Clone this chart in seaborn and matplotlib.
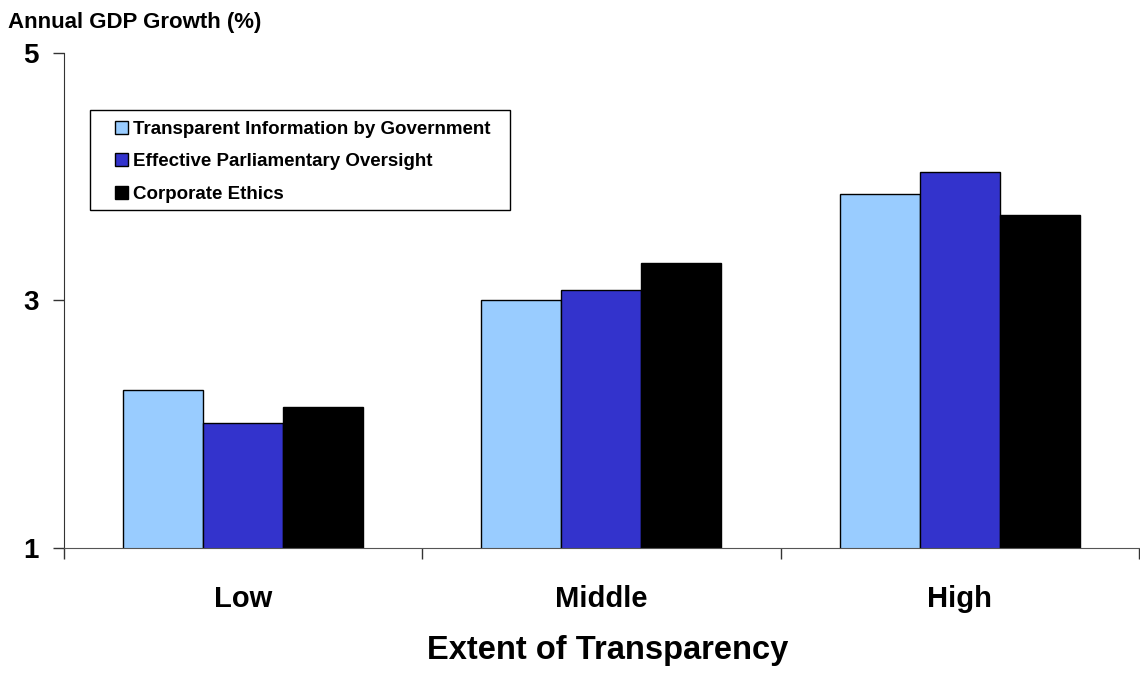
import pandas as pd
import matplotlib
matplotlib.use("Agg")
import matplotlib.pyplot as plt
from matplotlib.patches import Rectangle
import seaborn as sns

# values
categories = ["Low", "Middle", "High"]
transparent_info = [2.28, 3.00, 3.86]
parliament_oversight = [2.01, 3.08, 4.04]
corporate_ethics = [2.14, 3.30, 3.69]
series_names = ["Transparent Information by Government",
                "Effective Parliamentary Oversight",
                "Corporate Ethics"]
colors = ["#99CCFF", "#3333CC", "#000000"]
y_ticks = [1, 3, 5]

df = pd.DataFrame({
    "level": categories * 3,
    "growth": transparent_info + parliament_oversight + corporate_ethics,
    "series": [series_names[0]] * 3 + [series_names[1]] * 3 + [series_names[2]] * 3,
})

sns.set_style("white")
plt.rcParams["font.family"] = ["Liberation Sans", "DejaVu Sans"]
plt.rcParams["font.weight"] = "bold"
plt.rcParams["text.color"] = "black"
plt.rcParams["xtick.color"] = "black"
plt.rcParams["ytick.color"] = "black"

fig = plt.figure(figsize=(11.4, 6.75), dpi=100)
ax = fig.add_axes([0.056, 0.188, 0.943, 0.734])

sns.barplot(data=df, x="level", y="growth", hue="series", order=categories,
            hue_order=series_names, palette=colors, width=0.67,
            edgecolor="black", linewidth=1, saturation=1, ax=ax)

ax.set_ylim(1, 5)
ax.set_xlim(-0.5, 2.5)
ax.set_yticks(y_ticks)
ax.set_yticklabels([str(t) for t in y_ticks], fontsize=20, fontweight="bold")
ax.set_xticks([-0.5, 0.5, 1.5, 2.5])
ax.set_xticklabels([])
ax.tick_params(axis="y", direction="out", length=8, width=1, color="#333333", pad=10)
ax.tick_params(axis="x", direction="out", length=8, width=1, color="#333333")
ax.tick_params(left=True, bottom=True)
# category names sit between the boundary ticks
for i, c in enumerate(categories):
    ax.text(i, -0.1186, c, transform=ax.get_xaxis_transform(), ha="center",
            va="baseline", fontsize=21, fontweight="bold")

ax.set_xlabel("")
ax.set_ylabel("")
fig.text(0.533, 0.0237, "Extent of Transparency", ha="center", va="baseline",
         fontsize=23.5, fontweight="bold")
fig.text(0.007, 0.9585, "Annual GDP Growth (%)", ha="left", va="baseline",
         fontsize=16, fontweight="bold")

for side in ["top", "right"]:
    ax.spines[side].set_visible(False)
ax.spines["left"].set_color("#333333")
ax.spines["bottom"].set_color("#555555")

# legend box drawn separately so the padding matches the original
ax.add_patch(Rectangle((0.0242, 0.683), 0.391, 0.202, transform=ax.transAxes,
                       facecolor="white", edgecolor="black", linewidth=1,
                       zorder=5, clip_on=False))
handles, labels = ax.get_legend_handles_labels()
leg = ax.legend(handles, labels, loc="upper left", bbox_to_anchor=(0.0475, 0.863),
                frameon=False, fontsize=13.5, handlelength=0.7, handleheight=0.7,
                handletextpad=0.27, labelspacing=0.82, borderpad=0,
                borderaxespad=0)
leg.set_zorder(6)
for t in leg.get_texts():
    t.set_fontweight("bold")
    t.set_color("black")

fig.savefig("out.png", dpi=100)
